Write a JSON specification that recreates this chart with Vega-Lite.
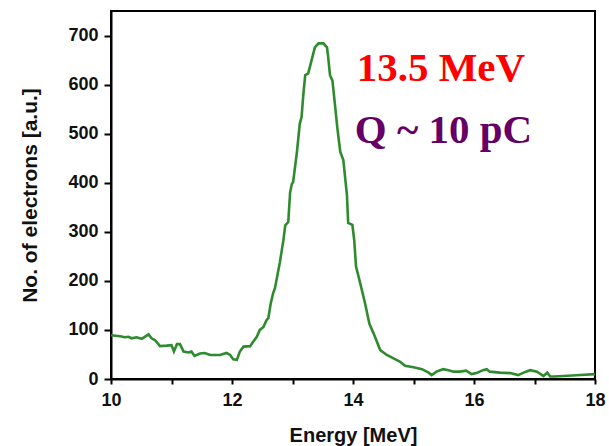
{
  "$schema": "https://vega.github.io/schema/vega-lite/v6.json",
  "width": 484,
  "height": 368,
  "autosize": "none",
  "padding": {"left": 111, "top": 11, "right": 14, "bottom": 67},
  "background": "white",
  "config": {
    "view": {"stroke": "black", "strokeWidth": 2},
    "axis": {
      "domainColor": "black",
      "domainWidth": 2,
      "tickColor": "black",
      "tickWidth": 2,
      "grid": false,
      "labelFont": "Liberation Sans",
      "labelFontWeight": "bold",
      "labelFontSize": 18,
      "labelColor": "#111111",
      "titleFont": "Liberation Sans",
      "titleFontWeight": "bold",
      "titleFontSize": 20,
      "titleColor": "#111111"
    }
  },
  "layer": [
    {
      "data": {
        "values": [
          {"E": 10.00, "N": 89}, {"E": 10.15, "N": 87}, {"E": 10.23, "N": 85}, {"E": 10.29, "N": 86},
          {"E": 10.34, "N": 83}, {"E": 10.42, "N": 85}, {"E": 10.51, "N": 82}, {"E": 10.62, "N": 91},
          {"E": 10.67, "N": 83}, {"E": 10.73, "N": 79}, {"E": 10.81, "N": 67}, {"E": 10.92, "N": 68},
          {"E": 11.00, "N": 69}, {"E": 11.04, "N": 56}, {"E": 11.09, "N": 71}, {"E": 11.14, "N": 71},
          {"E": 11.20, "N": 56}, {"E": 11.28, "N": 54}, {"E": 11.33, "N": 56}, {"E": 11.38, "N": 47},
          {"E": 11.47, "N": 52}, {"E": 11.55, "N": 53}, {"E": 11.64, "N": 49}, {"E": 11.80, "N": 49},
          {"E": 11.91, "N": 53}, {"E": 11.97, "N": 49}, {"E": 12.02, "N": 40}, {"E": 12.08, "N": 39},
          {"E": 12.13, "N": 56}, {"E": 12.19, "N": 66}, {"E": 12.30, "N": 67}, {"E": 12.35, "N": 76},
          {"E": 12.41, "N": 86}, {"E": 12.46, "N": 100}, {"E": 12.52, "N": 106}, {"E": 12.57, "N": 120},
          {"E": 12.60, "N": 124}, {"E": 12.64, "N": 154}, {"E": 12.68, "N": 175}, {"E": 12.71, "N": 185},
          {"E": 12.79, "N": 237}, {"E": 12.85, "N": 283}, {"E": 12.88, "N": 313}, {"E": 12.93, "N": 320},
          {"E": 12.96, "N": 380}, {"E": 12.99, "N": 398}, {"E": 13.01, "N": 401}, {"E": 13.07, "N": 459},
          {"E": 13.12, "N": 520}, {"E": 13.15, "N": 534}, {"E": 13.18, "N": 581}, {"E": 13.21, "N": 619},
          {"E": 13.26, "N": 623}, {"E": 13.32, "N": 652}, {"E": 13.37, "N": 676}, {"E": 13.43, "N": 684},
          {"E": 13.51, "N": 684}, {"E": 13.57, "N": 676}, {"E": 13.59, "N": 656}, {"E": 13.62, "N": 619},
          {"E": 13.66, "N": 608}, {"E": 13.70, "N": 561}, {"E": 13.74, "N": 513}, {"E": 13.79, "N": 463},
          {"E": 13.84, "N": 446}, {"E": 13.90, "N": 375}, {"E": 13.92, "N": 318}, {"E": 13.99, "N": 314},
          {"E": 14.02, "N": 283}, {"E": 14.05, "N": 229}, {"E": 14.12, "N": 195}, {"E": 14.20, "N": 154},
          {"E": 14.27, "N": 113}, {"E": 14.34, "N": 93}, {"E": 14.45, "N": 59}, {"E": 14.56, "N": 49},
          {"E": 14.67, "N": 42}, {"E": 14.78, "N": 35}, {"E": 14.86, "N": 27}, {"E": 15.00, "N": 24},
          {"E": 15.14, "N": 20}, {"E": 15.25, "N": 13}, {"E": 15.30, "N": 8}, {"E": 15.38, "N": 15},
          {"E": 15.49, "N": 20}, {"E": 15.58, "N": 18}, {"E": 15.66, "N": 15}, {"E": 15.77, "N": 15},
          {"E": 15.87, "N": 17}, {"E": 15.96, "N": 10}, {"E": 16.04, "N": 12}, {"E": 16.15, "N": 18},
          {"E": 16.21, "N": 20}, {"E": 16.26, "N": 15}, {"E": 16.43, "N": 13}, {"E": 16.60, "N": 12},
          {"E": 16.73, "N": 8}, {"E": 16.82, "N": 13}, {"E": 16.93, "N": 18}, {"E": 17.04, "N": 15},
          {"E": 17.15, "N": 6}, {"E": 17.21, "N": 13}, {"E": 17.26, "N": 5}, {"E": 17.32, "N": 5},
          {"E": 17.48, "N": 6}, {"E": 17.76, "N": 8}, {"E": 18.00, "N": 10}
        ]
      },
      "mark": {"type": "line", "color": "#2e8b2e", "strokeWidth": 2.6, "interpolate": "linear"},
      "encoding": {
        "x": {
          "field": "E",
          "type": "quantitative",
          "scale": {"domain": [10, 18], "nice": false, "zero": false},
          "axis": {
            "title": "Energy [MeV]",
            "values": [10, 11, 12, 13, 14, 15, 16, 17, 18],
            "format": "d",
            "labelExpr": "datum.value % 2 === 0 ? datum.label : ''",
            "tickSize": 5,
            "labelPadding": 7,
            "titlePadding": 16,
            "labelFlush": false,
            "labelOverlap": false
          }
        },
        "y": {
          "field": "N",
          "type": "quantitative",
          "scale": {"domain": [0, 750], "nice": false},
          "axis": {
            "title": "No. of electrons [a.u.]",
            "titleFontSize": 21,
            "values": [0, 50, 100, 150, 200, 250, 300, 350, 400, 450, 500, 550, 600, 650, 700],
            "format": "d",
            "labelExpr": "datum.value % 100 === 0 ? datum.label : ''",
            "tickSize": 7,
            "labelPadding": 6,
            "titlePadding": 27,
            "labelFlush": false,
            "labelOverlap": false
          }
        }
      }
    },
    {
      "data": {
        "values": [
          {"E": 14.06, "N": 607, "label": "13.5 MeV"},
          {"E": 14.03, "N": 481, "label": "Q ~ 10 pC"}
        ]
      },
      "mark": {
        "type": "text",
        "align": "left",
        "baseline": "alphabetic",
        "font": "Liberation Serif",
        "fontWeight": "bold",
        "fontSize": 41
      },
      "encoding": {
        "x": {"field": "E", "type": "quantitative"},
        "y": {"field": "N", "type": "quantitative"},
        "text": {"field": "label"},
        "color": {
          "field": "label",
          "type": "nominal",
          "scale": {"domain": ["13.5 MeV", "Q ~ 10 pC"], "range": ["#ff0000", "#660066"]},
          "legend": null
        }
      }
    }
  ]
}
